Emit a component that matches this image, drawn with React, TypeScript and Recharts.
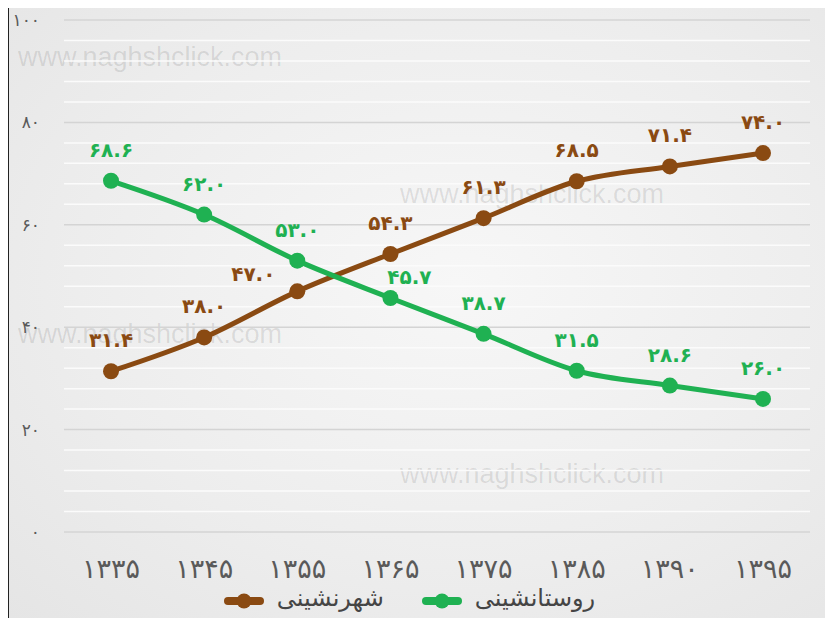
import { LineChart, Line, XAxis, YAxis, ReferenceLine, Legend, LabelList } from 'recharts';

const YEARS = ['۱۳۳۵', '۱۳۴۵', '۱۳۵۵', '۱۳۶۵', '۱۳۷۵', '۱۳۸۵', '۱۳۹۰', '۱۳۹۵'];
const URBAN = [31.4, 38.0, 47.0, 54.3, 61.3, 68.5, 71.4, 74.0];
const RURAL = [68.6, 62.0, 53.0, 45.7, 38.7, 31.5, 28.6, 26.0];
const Y_TICKS = [0, 20, 40, 60, 80, 100];
const MINOR_GRID = [4, 8, 12, 16, 24, 28, 32, 36, 44, 48, 52, 56, 64, 68, 72, 76, 84, 88, 92, 96];

const URBAN_NAME = 'شهرنشینی';
const RURAL_NAME = 'روستانشینی';
const WATERMARK = 'www.naghshclick.com';

const BROWN = '#8a4a12';
const GREEN = '#1fb152';
const FONT = '"DejaVu Sans", sans-serif';

const data = YEARS.map((year, i) => ({ year, urban: URBAN[i], rural: RURAL[i] }));

// persian digits
const fa = (s: string) => s.replace(/\d/g, (d) => '۰۱۲۳۴۵۶۷۸۹'[Number(d)]);

// label nudges where the two lines cross
const URBAN_NUDGE: Record<number, [number, number]> = { 2: [-44, 14] };
const RURAL_NUDGE: Record<number, [number, number]> = { 3: [19, 10] };

function makeLabel(color: string, nudge: Record<number, [number, number]>) {
  return (props: any) => {
    const { x, y, value, index } = props;
    const [dx, dy] = nudge[index] || [0, 0];
    return (
      <text
        x={x + dx}
        y={y - 31 + dy}
        dy="0.35em"
        textAnchor="middle"
        fill={color}
        fontSize={20}
        fontWeight="bold"
        fontFamily={FONT}
      >
        {fa(Number(value).toFixed(1))}
      </text>
    );
  };
}

function LegendIcon({ color }: { color: string }) {
  return (
    <svg width={40} height={16} style={{ display: 'block' }}>
      <line x1={4} y1={8} x2={36} y2={8} stroke={color} strokeWidth={8} strokeLinecap="round" />
      <circle cx={20} cy={8} r={7.5} fill={color} />
    </svg>
  );
}

function CustomLegend() {
  const items = [
    { name: URBAN_NAME, color: BROWN },
    { name: RURAL_NAME, color: GREEN },
  ];
  return (
    <div
      style={{
        display: 'flex',
        justifyContent: 'center',
        alignItems: 'center',
        gap: 38,
        height: 30,
        paddingTop: 4,
        fontFamily: FONT,
        fontSize: 24,
        color: '#454545',
      }}
    >
      {items.map((it) => (
        <div key={it.name} style={{ display: 'flex', alignItems: 'center', gap: 13 }}>
          <LegendIcon color={it.color} />
          <span style={{ direction: 'rtl', lineHeight: '30px', marginTop: -6 }}>{it.name}</span>
        </div>
      ))}
    </div>
  );
}

const watermarkStyle: React.CSSProperties = {
  position: 'absolute',
  fontFamily: '"Liberation Sans", Arial, sans-serif',
  fontSize: 27,
  color: 'rgba(0,0,0,0.1)',
  whiteSpace: 'nowrap',
  pointerEvents: 'none',
};

export default function App() {
  return (
    <div
      style={{
        position: 'relative',
        width: 816,
        height: 610,
        marginTop: -2,
        marginLeft: -1,
        borderLeft: '2px solid #222',
        borderTop: '2px solid #222',
        background: 'radial-gradient(ellipse at 55% 45%, #f7f7f7 0%, #ededed 60%, #e5e5e5 100%)',
      }}
    >
      <div style={{ ...watermarkStyle, left: 9, top: 34 }}>{WATERMARK}</div>
      <div style={{ ...watermarkStyle, left: 391, top: 171 }}>{WATERMARK}</div>
      <div style={{ ...watermarkStyle, left: 9, top: 311 }}>{WATERMARK}</div>
      <div style={{ ...watermarkStyle, left: 391, top: 451 }}>{WATERMARK}</div>
      <LineChart width={816} height={610} data={data} margin={{ top: 12, right: 15, left: 0, bottom: 0 }}>
        {MINOR_GRID.map((v) => (
          <ReferenceLine key={'m' + v} y={v} stroke="#fbfbfb" strokeWidth={1.5} />
        ))}
        {Y_TICKS.map((v) => (
          <ReferenceLine key={'t' + v} y={v} stroke="#d4d4d4" strokeWidth={1.5} />
        ))}
        <XAxis
          dataKey="year"
          axisLine={false}
          tickLine={false}
          tickSize={0}
          tickMargin={27}
          height={50}
          padding={{ left: 47, right: 47 }}
          tick={{ fill: '#5a5a5a', fontSize: 27, fontFamily: FONT }}
        />
        <YAxis
          domain={[0, 100]}
          ticks={Y_TICKS}
          axisLine={false}
          tickLine={false}
          tickSize={0}
          tickMargin={24}
          width={55}
          tickFormatter={(v) => fa(String(v))}
          tick={{ fill: '#5a5a5a', fontSize: 17, fontFamily: FONT }}
        />
        <Legend verticalAlign="bottom" height={36} content={<CustomLegend />} />
        <Line
          type="monotone"
          dataKey="urban"
          name={URBAN_NAME}
          stroke={BROWN}
          strokeWidth={5}
          dot={{ r: 8, fill: BROWN, stroke: BROWN, strokeWidth: 0 }}
          activeDot={false}
          isAnimationActive={false}
        >
          <LabelList dataKey="urban" content={makeLabel(BROWN, URBAN_NUDGE)} />
        </Line>
        <Line
          type="monotone"
          dataKey="rural"
          name={RURAL_NAME}
          stroke={GREEN}
          strokeWidth={5}
          dot={{ r: 8, fill: GREEN, stroke: GREEN, strokeWidth: 0 }}
          activeDot={false}
          isAnimationActive={false}
        >
          <LabelList dataKey="rural" content={makeLabel(GREEN, RURAL_NUDGE)} />
        </Line>
      </LineChart>
    </div>
  );
}
